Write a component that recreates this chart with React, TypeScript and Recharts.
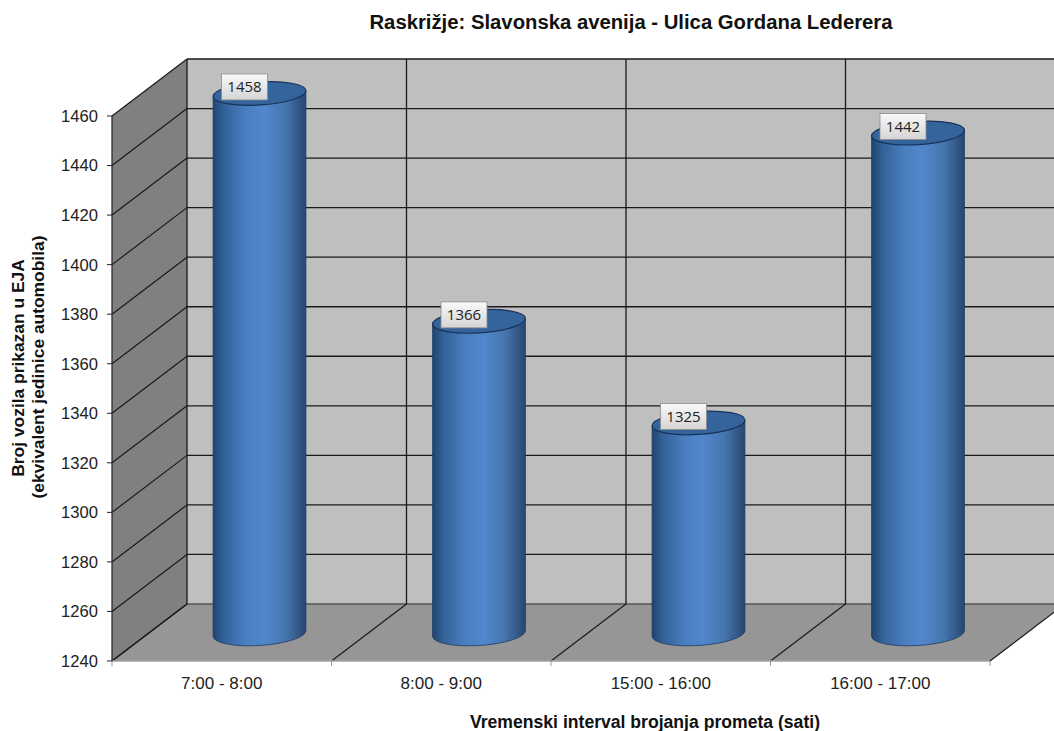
import React from 'react'
import {
  BarChart,
  Bar,
  XAxis,
  YAxis,
  CartesianGrid,
  LabelList,
} from 'recharts'

const intervals = ['7:00 - 8:00', '8:00 - 9:00', '15:00 - 16:00', '16:00 - 17:00']
const vehicleCounts = [1458, 1366, 1325, 1442]
const yTicks = [1240, 1260, 1280, 1300, 1320, 1340, 1360, 1380, 1400, 1420, 1440, 1460]

const chartData = intervals.map((interval, i) => ({ interval, count: vehicleCounts[i] }))

const WIDTH = 1054
const HEIGHT = 731
const X_AXIS_HEIGHT = 30
const Y_AXIS_WIDTH = 60
const MARGIN = { top: 116, right: 64, bottom: 70 - X_AXIS_HEIGHT, left: 52 }

// front plane of the fake 3D box
const LEFT = MARGIN.left + Y_AXIS_WIDTH
const RIGHT = WIDTH - MARGIN.right
const TOP = MARGIN.top
const BOTTOM = HEIGHT - 70

// how far back the wall sits, the bars stand halfway
const DEPTH_X = 75
const DEPTH_Y = 57
const BAR_DX = 38
const BAR_DY = 27.5
const TILT = 3.7
const TOP_RY = 11.5
const BOTTOM_RY = 12

function Walls() {
  return (
    <g>
      <polygon
        points={`${LEFT + DEPTH_X},${TOP - DEPTH_Y} ${RIGHT + DEPTH_X},${TOP - DEPTH_Y} ${RIGHT + DEPTH_X},${BOTTOM - DEPTH_Y} ${LEFT + DEPTH_X},${BOTTOM - DEPTH_Y}`}
        fill="#bfbfbf"
      />
      <polygon
        points={`${LEFT},${TOP} ${LEFT + DEPTH_X},${TOP - DEPTH_Y} ${LEFT + DEPTH_X},${BOTTOM - DEPTH_Y} ${LEFT},${BOTTOM}`}
        fill="#808080"
      />
      <polygon
        points={`${LEFT},${BOTTOM} ${LEFT + DEPTH_X},${BOTTOM - DEPTH_Y} ${RIGHT + DEPTH_X},${BOTTOM - DEPTH_Y} ${RIGHT},${BOTTOM}`}
        fill="#969696"
      />
    </g>
  )
}

// the grid is the lowest layer, so the walls go in with its first line
function HorizontalWallLine({ y1, index }: any) {
  const isFloor = Math.abs(y1 - BOTTOM) < 1
  return (
    <g>
      {index === 0 && <Walls />}
      <line
        x1={LEFT + DEPTH_X}
        y1={y1 - DEPTH_Y}
        x2={RIGHT + DEPTH_X}
        y2={y1 - DEPTH_Y}
        stroke={isFloor ? '#555' : '#1a1a1a'}
        strokeWidth={1.3}
      />
      <line x1={LEFT} y1={y1} x2={LEFT + DEPTH_X} y2={y1 - DEPTH_Y} stroke="#1a1a1a" strokeWidth={1.2} />
      <line x1={LEFT - 5} y1={y1} x2={LEFT} y2={y1} stroke="#222" />
    </g>
  )
}

function VerticalWallLine({ x1 }: any) {
  return (
    <g>
      <line x1={x1 + DEPTH_X} y1={TOP - DEPTH_Y} x2={x1 + DEPTH_X} y2={BOTTOM - DEPTH_Y} stroke="#1a1a1a" strokeWidth={1.3} />
      <line x1={x1} y1={BOTTOM} x2={x1 + DEPTH_X} y2={BOTTOM - DEPTH_Y} stroke="#1a1a1a" strokeWidth={1.2} />
      <line x1={x1} y1={BOTTOM} x2={x1} y2={BOTTOM + 5} stroke="#999" />
    </g>
  )
}

// band edges, the grid would otherwise sit on the category centers
function bandEdges() {
  const step = (RIGHT - LEFT) / intervals.length
  return [0, 1, 2, 3, 4].map((i) => LEFT + i * step)
}

function Cylinder({ x, y, width, height }: any) {
  const cx = x + width / 2 + BAR_DX
  const rx = width / 2
  const top = y - BAR_DY
  const bottom = y + height - BAR_DY
  const slope = rx * Math.sin((TILT * Math.PI) / 180)
  const run = rx * Math.cos((TILT * Math.PI) / 180)
  const body = [
    `M ${cx - run} ${top + slope}`,
    `L ${cx - run} ${bottom + slope}`,
    `A ${rx} ${BOTTOM_RY} ${-TILT} 0 0 ${cx + run} ${bottom - slope}`,
    `L ${cx + run} ${top - slope}`,
    'Z',
  ].join(' ')
  return (
    <g>
      <path d={body} fill="url(#cylinderSide)" stroke="#1c3a63" strokeWidth={0.8} />
      <ellipse
        cx={cx}
        cy={top}
        rx={rx}
        ry={TOP_RY}
        transform={`rotate(${-TILT} ${cx} ${top})`}
        fill="#35639c"
        stroke="#17335a"
        strokeWidth={1.2}
      />
    </g>
  )
}

function ValueBox({ x, y, width, value }: any) {
  const boxW = 46
  const boxH = 26
  const cx = x + width / 2 + BAR_DX - 15
  const cy = y - BAR_DY - 6.5
  return (
    <g>
      <rect
        x={cx - boxW / 2}
        y={cy - boxH / 2}
        width={boxW}
        height={boxH}
        fill="url(#labelBox)"
        stroke="#8c8c8c"
        strokeWidth={0.8}
      />
      <text
        x={cx}
        y={cy + 5.5}
        textAnchor="middle"
        fontFamily="'Open Sans', sans-serif"
        fontSize={15}
        fill="#222"
      >
        {value}
      </text>
    </g>
  )
}

export default function App() {
  return (
    <div style={{ position: 'absolute', left: 0, top: 0, width: WIDTH, height: HEIGHT, overflow: 'hidden', background: '#fff' }}>
      <BarChart
        width={WIDTH}
        height={HEIGHT}
        data={chartData}
        margin={MARGIN}
        style={{ fontFamily: "'Liberation Sans', Arial, sans-serif" }}
      >
        <defs>
          <linearGradient id="cylinderSide" x1="0" y1="0" x2="1" y2="0">
            <stop offset="0%" stopColor="#1f4470" />
            <stop offset="12%" stopColor="#336299" />
            <stop offset="35%" stopColor="#4a7ec0" />
            <stop offset="55%" stopColor="#5187cb" />
            <stop offset="78%" stopColor="#4675ae" />
            <stop offset="100%" stopColor="#26476f" />
          </linearGradient>
          <linearGradient id="labelBox" x1="0" y1="0" x2="0" y2="1">
            <stop offset="0%" stopColor="#fafafa" />
            <stop offset="100%" stopColor="#d4d4d4" />
          </linearGradient>
        </defs>
        <CartesianGrid
          horizontal={(props: any) => <HorizontalWallLine key={props.key} {...props} />}
          vertical={(props: any) => <VerticalWallLine key={props.key} {...props} />}
          verticalCoordinatesGenerator={bandEdges}
        />
        <XAxis
          dataKey="interval"
          height={X_AXIS_HEIGHT}
          tickLine={false}
          axisLine={{ stroke: '#a0a0a0', strokeWidth: 1.5 }}
          tick={{ fontSize: 17, fill: '#222' }}
          tickMargin={10}
          interval={0}
        />
        <YAxis
          width={Y_AXIS_WIDTH}
          domain={[1240, 1460]}
          ticks={yTicks}
          interval={0}
          tickLine={false}
          axisLine={{ stroke: '#222', strokeWidth: 1.2 }}
          tick={{ fontSize: 16.6, fill: '#222' }}
          tickMargin={8}
        />
        <Bar dataKey="count" barSize={93} shape={<Cylinder />} isAnimationActive={false}>
          <LabelList dataKey="count" content={<ValueBox />} />
        </Bar>
        <text x={631} y={29} textAnchor="middle" fontSize={20.3} fontWeight="bold" fill="#111">
          Raskrižje: Slavonska avenija - Ulica Gordana Lederera
        </text>
        <text x={645} y={728} textAnchor="middle" fontSize={17.6} fontWeight="bold" fill="#111">
          Vremenski interval brojanja prometa (sati)
        </text>
        <text transform="translate(24 368) rotate(-90)" textAnchor="middle" fontSize={17.4} fontWeight="bold" fill="#111">
          Broj vozila prikazan u EJA
        </text>
        <text transform="translate(44 367) rotate(-90)" textAnchor="middle" fontSize={17.4} fontWeight="bold" fill="#111">
          (ekvivalent jedinice automobila)
        </text>
      </BarChart>
    </div>
  )
}
